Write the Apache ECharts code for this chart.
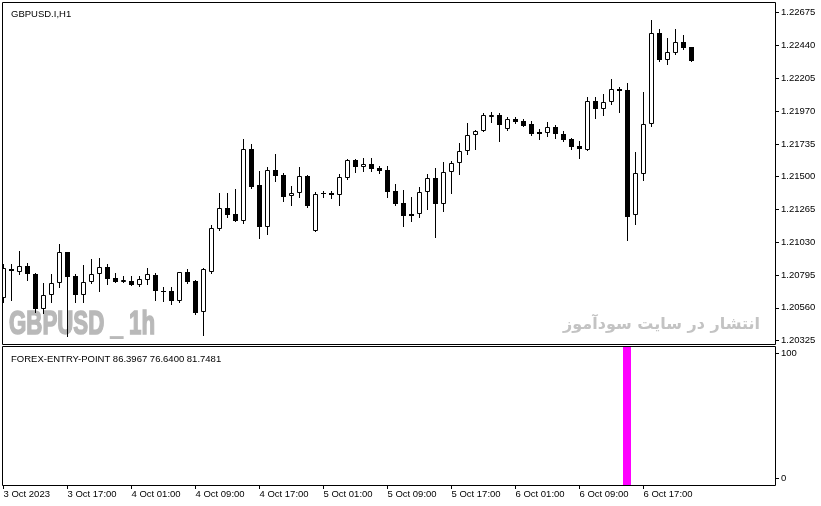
<!DOCTYPE html>
<html>
<head>
<meta charset="utf-8">
<script src="https://cdn.jsdelivr.net/npm/echarts@6/dist/echarts.min.js"></script>
<style>
html,body{margin:0;padding:0;background:#fff;}
#chart{width:821px;height:506px;}
</style>
</head>
<body>
<div id="chart"></div>
<script>
// ---- data (GBPUSD.I, H1, bar 0 = 3 Oct 2023 09:00) ----
const opens  = [1.20629,1.20841,1.20819,1.20860,1.20803,1.20554,1.20650,1.20736,1.20958,1.20791,
                1.20652,1.20743,1.20801,1.20851,1.20774,1.20743,1.20751,1.20726,1.20758,1.20796,
                1.20683,1.20679,1.20612,1.20815,1.20753,1.20529,1.20819,1.21125,1.21274,1.21231,
                1.21185,1.21696,1.21441,1.21142,1.21546,1.21512,1.21360,1.21381,1.21505,1.21109,
                1.21385,1.21385,1.21367,1.21493,1.21618,1.21567,1.21591,1.21560,1.21546,1.21398,
                1.21312,1.21231,1.21231,1.21388,1.21489,1.21307,1.21532,1.21596,1.21686,1.21797,
                1.21825,1.21935,1.21940,1.21842,1.21911,1.21897,1.21876,1.21818,1.21815,1.21854,
                1.21806,1.21768,1.21718,1.21694,1.22039,1.21982,1.22033,1.22126,1.22120,1.21224,
                1.21522,1.21880,1.22528,1.22338,1.22389,1.22463,1.22429];
const highs  = [1.20872,1.20872,1.20970,1.20880,1.20812,1.20741,1.20803,1.21018,1.20960,1.20801,
                1.20867,1.20908,1.20915,1.20872,1.20808,1.20791,1.20791,1.20791,1.20844,1.20808,
                1.20712,1.20712,1.20819,1.20839,1.20760,1.20844,1.21154,1.21385,1.21385,1.21410,
                1.21768,1.21732,1.21541,1.21567,1.21663,1.21524,1.21433,1.21567,1.21512,1.21390,
                1.21400,1.21398,1.21519,1.21625,1.21629,1.21634,1.21634,1.21577,1.21577,1.21448,
                1.21405,1.21352,1.21424,1.21519,1.21560,1.21605,1.21613,1.21739,1.21883,1.21833,
                1.21954,1.21962,1.21954,1.21930,1.21930,1.21911,1.21897,1.21840,1.21890,1.21871,
                1.21825,1.21777,1.21756,1.22070,1.22070,1.22091,1.22200,1.22143,1.22171,1.21677,
                1.22107,1.22623,1.22556,1.22492,1.22556,1.22513,1.22429];
const lows   = [1.20604,1.20617,1.20801,1.20760,1.20529,1.20521,1.20604,1.20708,1.20359,1.20604,
                1.20604,1.20736,1.20681,1.20731,1.20743,1.20743,1.20726,1.20717,1.20731,1.20617,
                1.20612,1.20588,1.20600,1.20736,1.20514,1.20366,1.20808,1.21118,1.21209,1.21185,
                1.21171,1.21417,1.21059,1.21087,1.21471,1.21328,1.21297,1.21352,1.21281,1.21109,
                1.21357,1.21350,1.21299,1.21484,1.21536,1.21543,1.21543,1.21529,1.21357,1.21297,
                1.21149,1.21185,1.21209,1.21267,1.21070,1.21257,1.21385,1.21517,1.21661,1.21696,
                1.21825,1.21894,1.21758,1.21837,1.21887,1.21865,1.21801,1.21768,1.21794,1.21780,
                1.21758,1.21701,1.21636,1.21688,1.21921,1.21942,1.22023,1.21964,1.21044,1.21161,
                1.21479,1.21865,1.22331,1.22308,1.22379,1.22417,1.22331];
const closes = [1.20844,1.20824,1.20858,1.20801,1.20554,1.20650,1.20736,1.20958,1.20784,1.20652,
                1.20743,1.20801,1.20851,1.20769,1.20743,1.20760,1.20726,1.20765,1.20801,1.20683,
                1.20676,1.20612,1.20815,1.20748,1.20521,1.20837,1.21130,1.21274,1.21226,1.21185,
                1.21696,1.21428,1.21142,1.21546,1.21507,1.21357,1.21383,1.21505,1.21290,1.21376,
                1.21374,1.21367,1.21496,1.21618,1.21567,1.21591,1.21557,1.21543,1.21393,1.21307,
                1.21221,1.21221,1.21388,1.21489,1.21307,1.21532,1.21596,1.21686,1.21797,1.21825,
                1.21940,1.21940,1.21868,1.21911,1.21894,1.21865,1.21808,1.21808,1.21854,1.21808,
                1.21765,1.21715,1.21701,1.22039,1.21982,1.22034,1.22126,1.22116,1.21211,1.21524,
                1.21876,1.22528,1.22336,1.22391,1.22463,1.22424,1.22331];

// indicator histogram bars: [bar index, value]
const signalBars = [[78, 110]];

// axis ticks
const priceTicks = [1.20325,1.20560,1.20795,1.21030,1.21265,1.21500,1.21735,1.21970,1.22205,1.22440,1.22675];
const indicatorTicks = [0, 100];
const timeTickBars = [0, 8, 16, 24, 32, 40, 48, 56, 64, 72, 80];
const timeLabels = ['3 Oct 2023','3 Oct 17:00','4 Oct 01:00','4 Oct 09:00','4 Oct 17:00',
                    '5 Oct 01:00','5 Oct 09:00','5 Oct 17:00','6 Oct 01:00','6 Oct 09:00','6 Oct 17:00'];

const chartTitle = 'GBPUSD.I,H1';
const indicatorTitle = 'FOREX-ENTRY-POINT 86.3967 76.6400 81.7481';
const watermarkLeft = 'GBPUSD _ 1h';
const watermarkRight = 'انتشار در سایت سودآموز';

// ---- view ranges ----
const X_MIN = -0.1875, X_MAX = 96.4375;
const P_MIN = 1.20301, P_MAX = 1.227518;
const S_MIN = -5.36, S_MAX = 105.84;

const candleData = opens.map((o, i) => [i, o, closes[i], lows[i], highs[i]]);

const FONT = '"Liberation Sans", Arial, sans-serif';
const FS = 9.5;

function renderCandle(params, api) {
  const i = api.value(0), o = api.value(1), c = api.value(2), l = api.value(3), h = api.value(4);
  const pO = api.coord([i, o]), pC = api.coord([i, c]);
  const pL = api.coord([i, l]), pH = api.coord([i, h]);
  const x = Math.floor(pO[0]) + 0.5;
  let top = Math.round(Math.min(pO[1], pC[1]));
  let bot = Math.round(Math.max(pO[1], pC[1]));
  const children = [{
    type: 'line',
    shape: {x1: x, y1: Math.round(pH[1]), x2: x, y2: Math.round(pL[1]) + 1},
    style: {stroke: '#000', lineWidth: 1}
  }];
  if (c >= o) {
    if (bot - top < 2) bot = top + 2;
    children.push({
      type: 'rect',
      shape: {x: x - 2, y: top + 0.5, width: 4, height: bot - top - 1},
      style: {fill: '#fff', stroke: '#000', lineWidth: 1}
    });
  } else {
    if (bot - top < 1) bot = top + 1;
    children.push({
      type: 'rect',
      shape: {x: x - 2.5, y: top, width: 5, height: bot - top},
      style: {fill: '#000'}
    });
  }
  return {type: 'group', children: children};
}

function renderSignal(params, api) {
  const i = api.value(0), v = api.value(1);
  const w = api.size([1, 0])[0];
  const pT = api.coord([i, v]);
  const pB = api.coord([i, S_MIN]);
  const x0 = Math.floor(pT[0] - w / 2);
  return {type: 'rect', shape: {x: x0, y: pT[1], width: Math.round(w), height: pB[1] - pT[1]},
          style: {fill: '#ff00ff'}};
}

const chart = echarts.init(document.getElementById('chart'), null, {renderer: 'canvas'});
chart.setOption({
  animation: false,
  backgroundColor: '#fff',
  title: [
    {text: chartTitle, left: 6, top: 4, textStyle: {fontFamily: FONT, fontSize: FS, fontWeight: 'normal', color: '#000'}},
    {text: indicatorTitle, left: 6, top: 349, textStyle: {fontFamily: FONT, fontSize: FS, fontWeight: 'normal', color: '#000'}}
  ],
  grid: [
    {left: 2, top: 2, width: 773, height: 342, show: false},
    {left: 2, top: 346, width: 773, height: 139, show: false}
  ],
  xAxis: [
    {type: 'value', gridIndex: 0, min: X_MIN, max: X_MAX, show: false},
    {type: 'value', gridIndex: 1, min: X_MIN, max: X_MAX, position: 'bottom',
     axisLine: {show: false, onZero: false},
     axisTick: {show: true, inside: false, length: 4, customValues: timeTickBars, lineStyle: {color: '#000'}},
     axisLabel: {show: true, customValues: timeTickBars, align: 'left', margin: 4,
                 fontFamily: FONT, fontSize: FS, color: '#000',
                 formatter: v => timeLabels[timeTickBars.indexOf(Math.round(v))]},
     splitLine: {show: false}}
  ],
  yAxis: [
    {type: 'value', gridIndex: 0, position: 'right', min: P_MIN, max: P_MAX,
     axisLine: {show: false, onZero: false},
     axisTick: {show: true, inside: false, length: 4, customValues: priceTicks, lineStyle: {color: '#000'}},
     axisLabel: {show: true, customValues: priceTicks, margin: 6, fontFamily: FONT, fontSize: FS, color: '#000',
                 formatter: v => v.toFixed(5)},
     splitLine: {show: false}},
    {type: 'value', gridIndex: 1, position: 'right', min: S_MIN, max: S_MAX,
     axisLine: {show: false, onZero: false},
     axisTick: {show: true, inside: false, length: 4, customValues: indicatorTicks, lineStyle: {color: '#000'}},
     axisLabel: {show: true, customValues: indicatorTicks, margin: 6, fontFamily: FONT, fontSize: FS, color: '#000',
                 formatter: v => String(Math.round(v))},
     splitLine: {show: false}}
  ],
  graphic: [
    {type: 'text', x: 9, y: 325, scaleX: 0.655, z: 0, silent: true,
     style: {text: watermarkLeft, font: 'bold 34px "Liberation Sans", Arial, sans-serif', fill: '#b9b9b9',
             stroke: '#b9b9b9', lineWidth: 1.6, verticalAlign: 'middle', align: 'left'}},
    {type: 'text', x: 760, y: 325, z: 0, silent: true,
     style: {text: watermarkRight, font: 'bold 16px "DejaVu Sans", sans-serif', fill: '#c3c3c3', verticalAlign: 'middle', align: 'right'}},
    {type: 'rect', z: 100, silent: true, shape: {x: 2.5, y: 2.5, width: 773, height: 342},
     style: {fill: 'none', stroke: '#000', lineWidth: 1}},
    {type: 'rect', z: 100, silent: true, shape: {x: 2.5, y: 346.5, width: 773, height: 139},
     style: {fill: 'none', stroke: '#000', lineWidth: 1}}
  ],
  series: [
    {type: 'custom', xAxisIndex: 0, yAxisIndex: 0, clip: true, renderItem: renderCandle, data: candleData, z: 5},
    {type: 'custom', xAxisIndex: 1, yAxisIndex: 1, clip: true, renderItem: renderSignal, data: signalBars, z: 5}
  ]
});
</script>
</body>
</html>
